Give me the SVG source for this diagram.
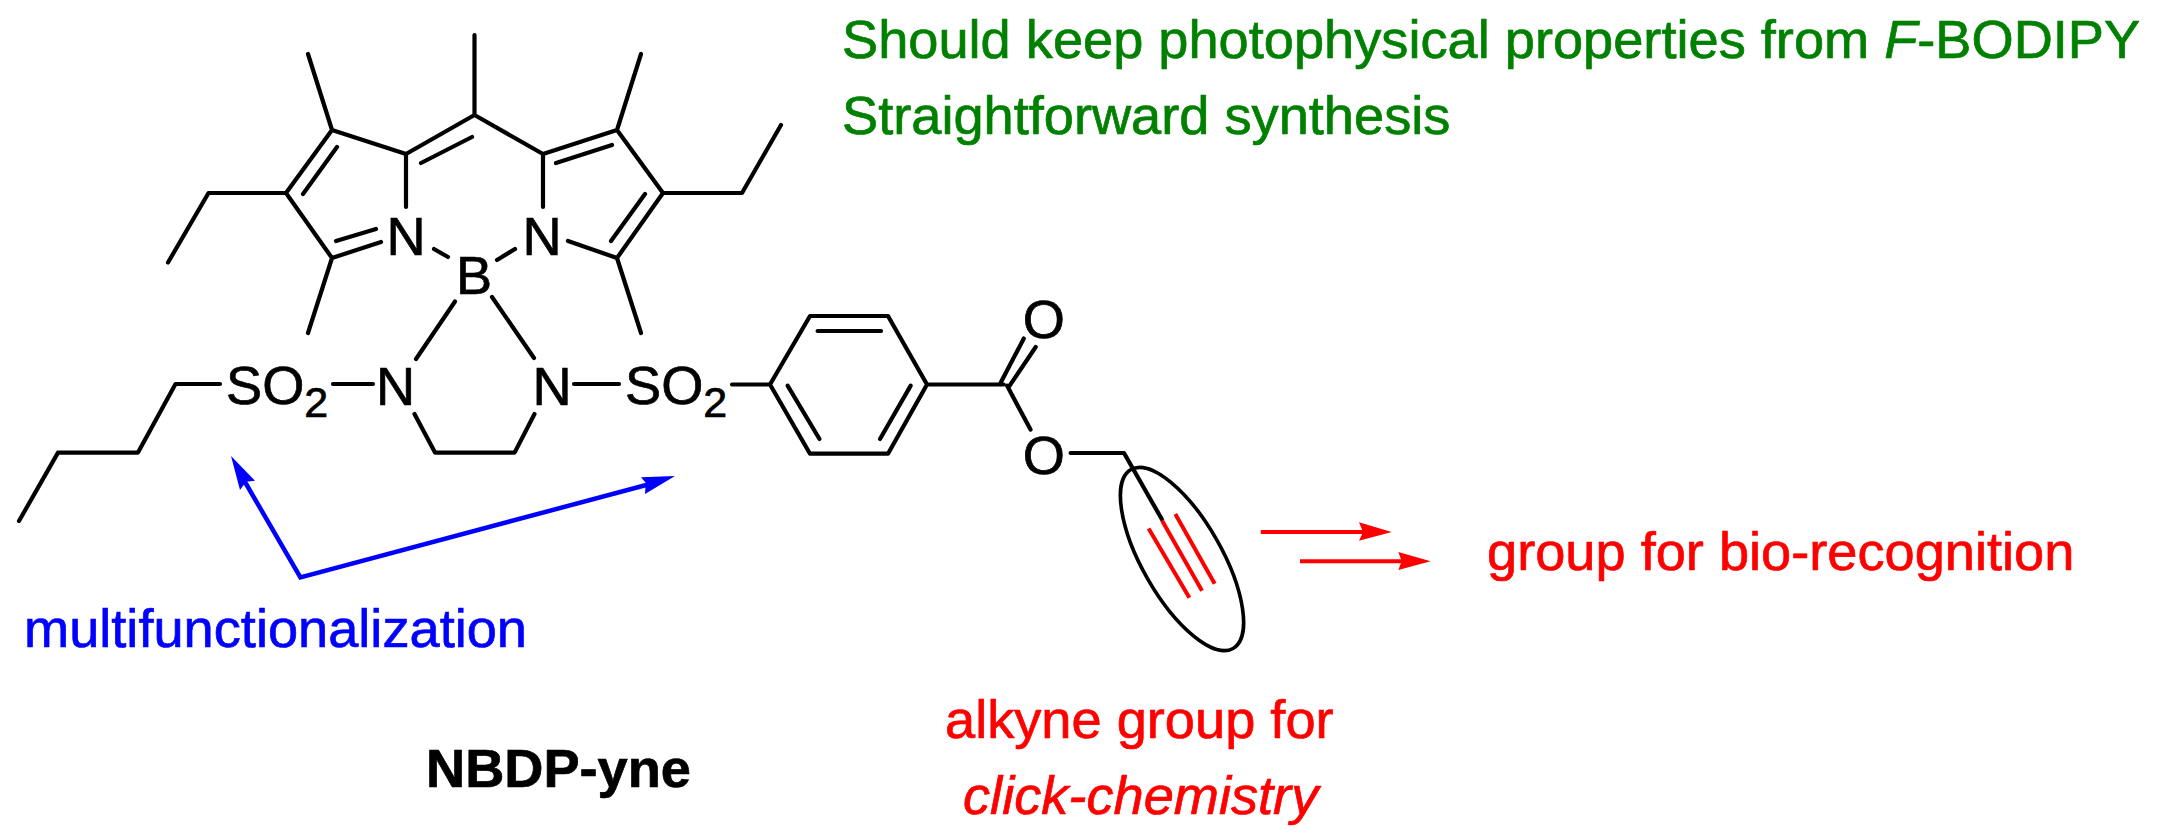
<svg xmlns="http://www.w3.org/2000/svg" width="2165" height="840" viewBox="0 0 2165 840">
<style>
text{font-family:"Liberation Sans",Arial,sans-serif;font-size:54.2px;stroke-width:.7;paint-order:stroke}
.b{stroke:#000;stroke-width:4.2;fill:none;stroke-linecap:round;stroke-linejoin:round}
.a{fill:#000;stroke:#000}
.s{font-size:43px}
.g{fill:#008000;stroke:#008000}.r{fill:#f00;stroke:#f00}.u{fill:#00f;stroke:#00f}
.l{stroke:#f00;stroke-width:4;fill:none}
</style>
<rect width="2165" height="840" fill="#fff"/>
<g id="connectors">
<g class="b">
<path d="M474.500 35V115M406 207V154L474.500 115L543 154V207M421 163L472 137M543 154L617 130L663 193L617 258L568 241M556 163L612 145M645 194L611 241M617 130L641 54M663 193H742L781 125M617 258L641 333"/>
<path d="M406 154L332 130L286 193L332 258L381 242M303 194L337 147M336 241L376 229M332 130L308 54M286 193H208.500L168 262.500M332 258L308 333"/>
<path d="M434 249L448 257M515 249L497 260M455 301.500L416 359M492 297L534 358"/>
<path d="M220 384H175.500L138 452.600H58L19 521M333 384H373M574 384H619M732 384.500H770M414.500 414L435 452.600H514.600L534.500 414"/>
<path d="M770 384.500L810 316H888L927 384.500L888 453.700H810ZM817.600 331H881M787.600 385.600L819.500 439M910.700 385.600L880 439M927 384.500H1003.700"/>
<path d="M1000 384L1023.800 338.500M1009 386.700L1035.700 347M1007 385.600L1030.500 429.600M1070.600 453H1124L1162 519.500"/>
<ellipse cx="1182" cy="559" rx="39.700" ry="103" transform="rotate(-29.700 1182 559)" stroke-width="3.6"/>
</g>
<path class="l" d="M1148.600 528.600L1189.400 597.700M1162 520.600L1202 590.800M1175.300 514L1214.700 583.800"/>
<path class="l" stroke-width="4.300" d="M1260.800 532H1370M1300 561.300H1410"/>
<path d="M1391.700 532L1359 522.300L1363 532L1359 540.700ZM1430.700 561.300L1398.300 552L1401.700 561.300L1398.300 570Z" fill="#f00"/>
<path d="M245 482L300.400 577.400L650 484" stroke="#00f" stroke-width="4.500" fill="none"/>
<path d="M231 456L255 480.700L246 481.700L240 490ZM675 476L641 477.300L645.700 482.700L645 494Z" fill="#00f"/>
</g>
<g id="bodipy">
<text class="a" x="406" y="255" text-anchor="middle">N</text>
<text class="a" x="542" y="255" text-anchor="middle">N</text>
<text class="a" x="474" y="294" text-anchor="middle">B</text>
<text class="a" x="395.500" y="405" text-anchor="middle">N</text>
<text class="a" x="552" y="405" text-anchor="middle">N</text>
</g>
<g id="so2-left"><text class="a" x="226" y="404">SO<tspan class="s" dy="13">2</tspan></text></g>
<g id="so2-right"><text class="a" x="625" y="404">SO<tspan class="s" dy="13">2</tspan></text></g>
<g id="oxygens">
<text class="a" x="1043.800" y="338" text-anchor="middle">O</text>
<text class="a" x="1043.800" y="474" text-anchor="middle">O</text>
</g>
<g id="labels">
<text class="g" x="842" y="58">Should keep photophysical properties from <tspan font-style="italic">F</tspan>-BODIPY</text>
<text class="g" x="842" y="134">Straightforward synthesis</text>
<text class="u" x="24" y="647">multifunctionalization</text>
<text class="a" x="426" y="787" font-weight="bold">NBDP-yne</text>
<text class="r" x="945" y="738">alkyne group for</text>
<text class="r" x="963" y="814" font-style="italic">click-chemistry</text>
<text class="r" x="1487" y="570">group for bio-recognition</text>
</g>
</svg>
